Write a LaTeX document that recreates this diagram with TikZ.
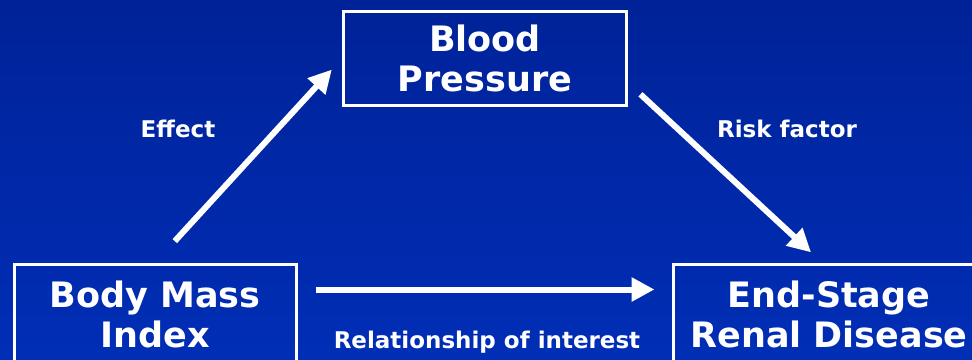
\documentclass[tikz,border=0pt]{standalone}
\usepackage{fontspec}
\setmainfont{DejaVu Sans}
\usetikzlibrary{arrows.meta, calc}

\definecolor{bgtop}{RGB}{0,34,152}
\definecolor{bgbottom}{RGB}{0,46,182}

\begin{document}
\begin{tikzpicture}[
    x=1pt, y=-1pt,
    % Kästen mit weißem Rahmen
    box/.style={draw=white, line width=3pt, text=white, align=center,
                font=\fontsize{35}{40}\selectfont\bfseries, inner sep=0pt},
    % Pfeile zwischen den Kästen
    conn/.style={white, line width=6pt, -{Triangle[length=23pt, width=23pt]}},
    % Beschriftung der Pfeile
    lbl/.style={text=white, anchor=base, font=\fontsize{23}{27}\selectfont\bfseries}
]

% Hintergrund mit leichtem Verlauf
\useasboundingbox (0,0) rectangle (972,359);
\clip (0,0) rectangle (972,359);
\shade[top color=bgtop, bottom color=bgbottom] (0,0) rectangle (972,359);

% --- KÄSTEN ---
\node[box, minimum width=283pt, minimum height=94pt] (bp) at (485,58.5) {Blood\\Pressure};
\node[box, minimum width=282pt, minimum height=100pt] (bmi) at (155.2,314) {Body Mass\\Index};
\node[box, minimum width=312pt, minimum height=100pt] (esrd) at (829,314) {End-Stage\\Renal Disease};

% --- PFEILE ---
\draw[conn, shorten <=29pt, shorten >=15pt] (bmi.north) -- (bp.west);
\draw[conn, shorten <=17pt, shorten >=15pt] ($(bp.east)!0.5!(bp.south east)$) -- ([xshift=-7pt]esrd.north);
\draw[conn, shorten <=18pt, shorten >=17pt] ([yshift=-27pt]bmi.north east) -- ([yshift=-27pt]esrd.north west);

% --- BESCHRIFTUNG ---
\node[lbl] (effect) at (178,137) {Effect};
\node[lbl] (risk) at (787,137) {Risk factor};
\node[lbl] (interest) at (487,348) {Relationship of interest};

\end{tikzpicture}
\end{document}
